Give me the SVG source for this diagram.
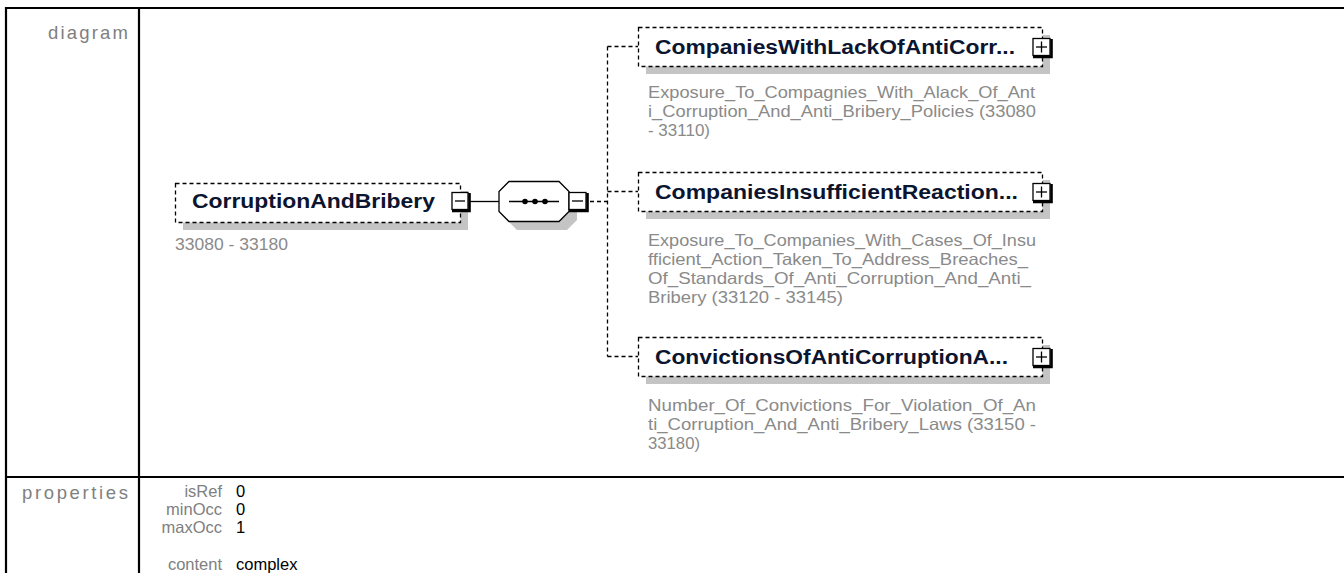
<svg xmlns="http://www.w3.org/2000/svg" width="1344" height="573" viewBox="0 0 1344 573">
<style>
.tbl{stroke:#000;stroke-width:2.2;fill:none}
.hdr{font-family:"Liberation Sans",Arial,sans-serif;font-size:18.5px;fill:#808080}
.key{font-family:"Liberation Sans",Arial,sans-serif;font-size:16.5px;fill:#808080;text-anchor:end}
.val{font-family:"Liberation Sans",Arial,sans-serif;font-size:16.5px;fill:#000}
.box{fill:#fff;stroke:#000;stroke-width:1.3;stroke-dasharray:4 3}
.shadow{fill:#c4c4c4}
.lbl{font-family:"Liberation Sans",Arial,sans-serif;font-weight:bold;font-size:20px;fill:#0c1530}
.desc{font-family:"Liberation Sans",Arial,sans-serif;font-size:16.5px;fill:#8a8a8a}
.btn{fill:#fff;stroke:#000;stroke-width:1.3}
.btnsh{stroke:#000;stroke-width:2.6;fill:none}
.sign{stroke:#000;stroke-width:1.3;fill:none}
.conn{stroke:#000;stroke-width:1.3;fill:none;stroke-dasharray:4 3}
.solid{stroke:#000;stroke-width:1.3;fill:none}
</style>
<rect width="1344" height="573" fill="#fff"/>
<g id="table">
<line class="tbl" x1="5" y1="8" x2="1344" y2="8"/>
<line class="tbl" x1="6" y1="7" x2="6" y2="573"/>
<line class="tbl" x1="139" y1="7" x2="139" y2="573"/>
<line class="tbl" x1="5" y1="477" x2="1344" y2="477"/>
<text class="hdr" x="128" y="39" text-anchor="end" textLength="80" lengthAdjust="spacing">diagram</text>
<text class="hdr" x="128" y="499" text-anchor="end" textLength="106" lengthAdjust="spacing">properties</text>
</g>
<g id="properties">
<text class="key" x="222" y="497">isRef</text>
<text class="val" x="236" y="497">0</text>
<text class="key" x="222" y="515">minOcc</text>
<text class="val" x="236" y="515">0</text>
<text class="key" x="222" y="533">maxOcc</text>
<text class="val" x="236" y="533">1</text>
<text class="key" x="222" y="570">content</text>
<text class="val" x="236" y="570">complex</text>
</g>
<g id="connectors">
<line class="solid" x1="470" y1="201.5" x2="499" y2="201.5"/>
<line class="conn" x1="590" y1="201.5" x2="607" y2="201.5"/>
<line class="conn" x1="607.5" y1="46.5" x2="607.5" y2="356.5"/>
<line class="conn" x1="607.5" y1="46.5" x2="638" y2="46.5"/>
<line class="conn" x1="607.5" y1="191.5" x2="638" y2="191.5"/>
<line class="conn" x1="607.5" y1="356.5" x2="638" y2="356.5"/>
</g>
<g id="node-CorruptionAndBribery">
<rect class="shadow" x="183" y="191" width="285" height="39"/>
<rect class="box" x="175.5" y="183.5" width="285" height="39"/>
<text class="lbl" x="192" y="208" textLength="243" lengthAdjust="spacingAndGlyphs">CorruptionAndBribery</text>
<rect class="btn" x="452" y="192.5" width="16" height="17"/>
<polyline class="btnsh" points="469.5,193 469.5,211 452,211"/>
<line class="sign" x1="455" y1="201" x2="465" y2="201"/>
<text class="desc" x="175" y="250" textLength="113" lengthAdjust="spacingAndGlyphs">33080 - 33180</text>
</g>
<g id="node-sequence">
<polygon class="shadow" points="517,189 567,189 577,199 577,220 567,230 517,230 507,220 507,199"/>
<polygon fill="#fff" stroke="#000" stroke-width="1.3" points="509,181.5 559,181.5 569,191.5 569,211.5 559,221.5 509,221.5 499,211.5 499,191.5"/>
<line class="solid" x1="509" y1="201.5" x2="559" y2="201.5"/>
<circle cx="525" cy="201.5" r="2.8" fill="#000"/>
<circle cx="535" cy="201.5" r="2.8" fill="#000"/>
<circle cx="545" cy="201.5" r="2.8" fill="#000"/>
<rect class="btn" x="569" y="192.5" width="17" height="17"/>
<polyline class="btnsh" points="587.5,193 587.5,211 569,211"/>
<line class="sign" x1="572" y1="201" x2="583" y2="201"/>
</g>
<g id="node-CompaniesWithLackOfAntiCorr">
<rect class="shadow" x="646" y="35" width="404" height="39"/>
<rect class="box" x="638.5" y="27.5" width="404" height="39"/>
<text class="lbl" x="655" y="54" textLength="360" lengthAdjust="spacingAndGlyphs">CompaniesWithLackOfAntiCorr...</text>
<rect class="btn" x="1033" y="38.5" width="17" height="17"/>
<polyline class="btnsh" points="1051.5,39 1051.5,57 1033,57"/>
<line class="sign" x1="1036" y1="47" x2="1047" y2="47"/>
<line class="sign" x1="1041.5" y1="41.5" x2="1041.5" y2="52.5"/>
<text class="desc" x="648" y="98" textLength="387" lengthAdjust="spacingAndGlyphs">Exposure_To_Compagnies_With_Alack_Of_Ant</text>
<text class="desc" x="648" y="117" textLength="388" lengthAdjust="spacingAndGlyphs">i_Corruption_And_Anti_Bribery_Policies (33080</text>
<text class="desc" x="648" y="136" textLength="62" lengthAdjust="spacingAndGlyphs">- 33110)</text>
</g>
<g id="node-CompaniesInsufficientReaction">
<rect class="shadow" x="646" y="180" width="404" height="39"/>
<rect class="box" x="638.5" y="172.5" width="404" height="39"/>
<text class="lbl" x="655" y="199" textLength="363" lengthAdjust="spacingAndGlyphs">CompaniesInsufficientReaction...</text>
<rect class="btn" x="1033" y="183.5" width="17" height="17"/>
<polyline class="btnsh" points="1051.5,184 1051.5,202 1033,202"/>
<line class="sign" x1="1036" y1="192" x2="1047" y2="192"/>
<line class="sign" x1="1041.5" y1="186.5" x2="1041.5" y2="197.5"/>
<text class="desc" x="648" y="246" textLength="388" lengthAdjust="spacingAndGlyphs">Exposure_To_Companies_With_Cases_Of_Insu</text>
<text class="desc" x="648" y="265" textLength="380" lengthAdjust="spacingAndGlyphs">fficient_Action_Taken_To_Address_Breaches_</text>
<text class="desc" x="648" y="284" textLength="383" lengthAdjust="spacingAndGlyphs">Of_Standards_Of_Anti_Corruption_And_Anti_</text>
<text class="desc" x="648" y="303" textLength="195" lengthAdjust="spacingAndGlyphs">Bribery (33120 - 33145)</text>
</g>
<g id="node-ConvictionsOfAntiCorruptionA">
<rect class="shadow" x="646" y="345" width="404" height="39"/>
<rect class="box" x="638.5" y="337.5" width="404" height="39"/>
<text class="lbl" x="655" y="364" textLength="353" lengthAdjust="spacingAndGlyphs">ConvictionsOfAntiCorruptionA...</text>
<rect class="btn" x="1033" y="348.5" width="17" height="17"/>
<polyline class="btnsh" points="1051.5,349 1051.5,367 1033,367"/>
<line class="sign" x1="1036" y1="357" x2="1047" y2="357"/>
<line class="sign" x1="1041.5" y1="351.5" x2="1041.5" y2="362.5"/>
<text class="desc" x="648" y="411" textLength="388" lengthAdjust="spacingAndGlyphs">Number_Of_Convictions_For_Violation_Of_An</text>
<text class="desc" x="648" y="430" textLength="388" lengthAdjust="spacingAndGlyphs">ti_Corruption_And_Anti_Bribery_Laws (33150 -</text>
<text class="desc" x="648" y="449" textLength="52" lengthAdjust="spacingAndGlyphs">33180)</text>
</g>
</svg>
